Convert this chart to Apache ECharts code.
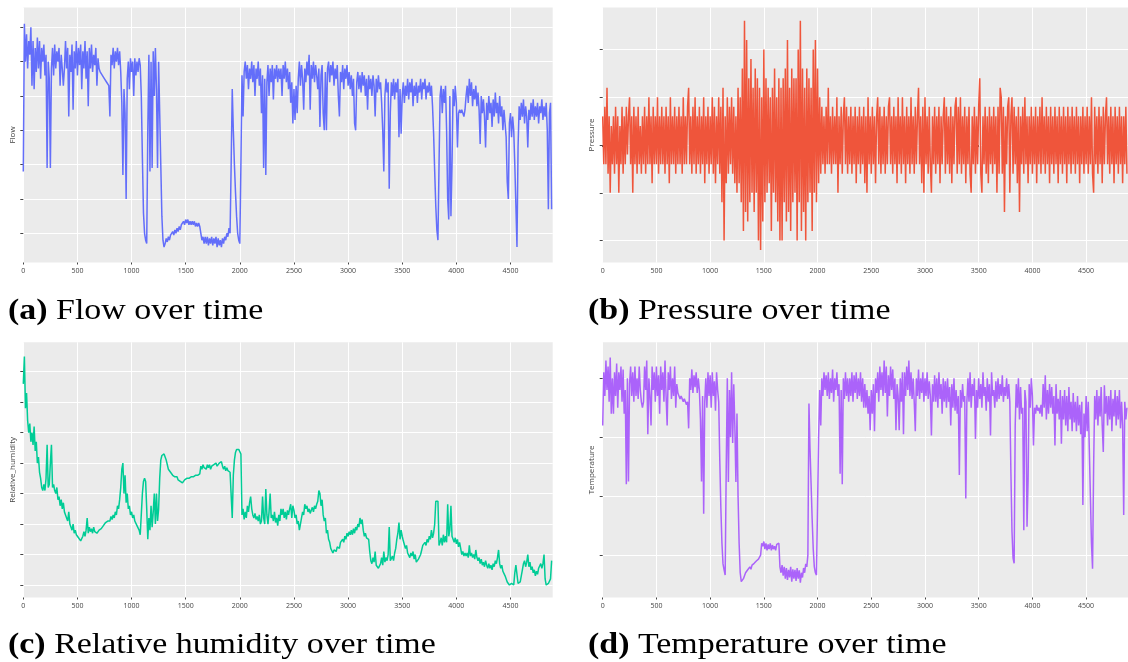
<!DOCTYPE html>
<html>
<head>
<meta charset="utf-8">
<title>Sensor readings over time</title>
<script src="https://cdn.jsdelivr.net/npm/echarts@6.0.0/dist/echarts.min.js"></script>
<style>
  html, body { margin: 0; padding: 0; background: #ffffff; }
  #chart { width: 1128px; height: 662px; }
</style>
</head>
<body>
<div id="chart"></div>
<script>
// Samples are taken every STEP time units, starting at t = 0.
const STEP = 10;
const xTicks = [0, 500, 1000, 1500, 2000, 2500, 3000, 3500, 4000, 4500];

const flow = [
  28,71,60,68,58,66,62,70,53,66,
  52,64,57,67,58,66,55,64,60,65,
  56,62,29,60,55,29,58,64,56,65,
  58,63,60,64,53,62,58,53,58,66,
  58,64,44,62,57,65,46,63,58,66,
  56,64,59,65,52,63,58,66,55,63,
  47,64,58,65,57,62,59,64,53,61,
  58,57,56.5,56,55.5,55,54.5,54,53.5,53,
  44,62,59,64,58,63,60,64,59,63,
  57,48,27,52,45,20,55,60,52,61,
  57,60,50,61,56,60,57,61,59,50,
  32,16,10,8,7,40,62,28,60,29,
  63,50,64,52,29,60,45,30,15,8,
  6,7,8.5,7.5,9,8,9.5,9,10.5,9.5,
  11,10,11.5,10.5,12,11,12.5,12,13.5,12.5,
  14,13,14,12.5,13.5,12.5,13.5,12.5,13.5,12,
  13,12,13,12,10,8,9,7,9,7,
  9,6.5,8.5,7,9,6.5,8.5,7,9,6,
  8.5,6.5,8,6,8.5,7,9,8,10,9,
  11.5,10,30,52,40,30,22,15,10,8,
  7,30,56,44,57,60,55,59,52,58,
  55,60,54,59,50,58,55,60,53,58,
  45,56,29,55,27,54,59,50,58,54,
  59,49,58,55,59,54,58,55,58,50,
  59,55,60,54,58,52,57,48,54,42,
  52,43,53,45,55,60,53,59,55,46,
  58,54,60,56,62,46,59,55,60,54,
  59,56,52,58,41,56,59,45,40,57,
  40,58,60,54,59,56,60,53,58,55,
  59,50,44,57,54,59,52,58,55,59,
  53,57,52,56,50,55,42,40,54,57,
  52,56,51,57,53,56,50,55,46,56,
  52,55,50,56,53,44,55,51,56,52,
  54,48,40,28,50,55,51,54,23,45,
  54,50,55,49,54,51,55,38,52,39,
  50,54,48,53,50,55,49,54,51,55,
  47,53,50,54,48,53,51,55,49,54,
  52,55,49,53,51,54,50,53,47,39,
  28,18,11,8,30,50,53,45,52,48,
  53,40,20,14,50,15,30,52,47,53,
  48,35,45,46,45,46,45,44,46,50,
  53,48,55,50,54,47,52,49,53,47,
  51,46,36,50,45,49,44,35,48,43,
  50,45,48,41,49,44,51,45,48,42,
  50,44,47,40,46,42,38,25,20,42,
  45,38,44,40,30,18,6,35,47,43,
  48,44,49,42,47,44,35,46,43,48,
  44,49,43,47,44,48,42,47,45,49,
  43,47,44,48,40,17,45,48,17
];

const pressure = [
  3,-2,4,-2,6,-3,3,-5,2,-2,
  3,-3,4,-2,3,-5,2,-2,4,-3,
  3,-2,4,-1,3,5,-2,3,-5,4,
  -2,3,-3,4,-2,2,-3,3,-2,4,
  -3,3,-2,5,-2,3,-4,4,-2,3,
  -2,5,-3,3,-2,4,-2,3,-3,4,
  -2,3,-4,5,-2,3,-2,4,-3,3,
  -2,4,-2,3,-3,5,-2,3,-2,4,
  6,-2,3,-3,4,-2,5,-3,3,-2,
  4,-3,3,-2,5,-4,3,-2,4,-3,
  3,-2,5,-3,4,-4,3,-2,5,-3,
  4,-6,6,-10,3,-4,5,-3,4,-2,
  5,-3,4,-4,3,-5,6,-4,5,-6,
  8,-9,13,-7,11,-8,7,-6,9,-5,
  6,-7,8,-5,7,-10,6,-11,5,-8,
  10,-6,7,-5,6,-4,5,-9,6,-5,
  8,-6,5,-8,7,-10,6,-10,7,-6,
  8,-8,11,-7,6,-9,8,-6,7,-5,
  7,-10,10,-6,13,-9,8,-7,6,-10,
  8,-6,7,-5,6,-9,10,-5,11,-6,
  8,-4,5,-3,4,-2,3,-3,4,-2,
  6,-2,3,-3,4,-2,3,-2,5,-5,
  3,-2,4,-3,3,5,-2,4,-3,3,
  -2,4,-3,3,-2,4,-4,3,-2,4,
  -3,3,-2,4,-4,3,-5,5,-2,3,
  -3,4,-2,3,-4,3,5,-2,4,-3,
  3,-2,4,-3,3,-2,4,5,-2,3,
  -3,4,-2,3,-4,5,-2,3,-3,5,
  -2,3,-4,4,-2,3,-3,5,-2,3,
  -3,4,-2,3,6,-2,3,-4,4,-5,
  5,-2,3,-3,4,-2,-5,3,-2,4,
  -3,3,-2,4,-4,3,-2,3,5,-3,
  4,-2,3,-3,4,-4,3,-2,4,5,
  -3,4,-2,5,-3,3,-2,4,-4,3,
  -2,4,-3,-5,3,-2,4,-3,3,-2,
  4,7,-3,-5,3,-2,4,-3,3,-4,
  4,-2,3,-3,4,-2,3,-5,4,-3,
  6,5,-3,4,-7,3,-2,4,5,-5,
  3,5,-3,4,-2,3,-4,4,-7,3,
  -2,4,-3,5,-2,3,-4,3,-2,4,
  -3,3,-2,4,-4,3,-2,4,-3,5,
  -2,3,-3,4,-2,3,-4,4,-2,3,
  -3,4,-2,3,-4,4,-2,3,-3,4,
  -2,3,-4,4,-2,3,-3,4,-2,3,
  -3,4,-2,3,-4,3,-2,4,-3,3,
  -2,4,-3,3,-2,5,-3,-5,4,-2,
  3,-3,4,-2,3,-4,4,-2,3,5,
  -2,3,-3,4,-2,3,-4,4,-2,3,
  -3,4,-2,3,-4,3,-2,4,-3
];

const humidity = [
  86,95,78,83,74,70,73,67,70,66,
  72,64,67,60,62,57,55,52,51,53,
  51,55,66,52,53,60,66,52,53,51,
  50,52,48,49,46,48,45,47,44,43,
  43,41,44,40,39,38,40,37,38,36.5,
  37,35.5,36,34.5,35,36,37.5,36,38,42,
  37,39,37.5,38.5,37,39,37.5,38,37,37.5,
  38,38,38.5,39,39.5,40,40.5,40,41,40.5,
  41,42.5,41.5,43,42,44,43,46,45,48,
  52,58,60,50,56,47,50,45,46,43,
  44,42,43,41,41.5,39.5,40,38,36.5,37,
  50,54,55,54,45,35,42,38,46,39,
  44,50,40,50,41,45,55,61,62.5,63,
  63,62.5,61,59.5,58,57.5,57,56.5,56,56.5,
  55.5,55,55.5,54.5,55,54,54.5,53.5,54,54.5,
  54.5,55,55.5,55,55.5,55.5,56,55.5,56,56,
  56,56,56.5,56.5,59,58,59.5,58.5,59,58,
  59.5,58.5,59.5,58,59,58.5,59.5,59,60,59,
  59.5,60,59.5,60.5,59,58,59,57.5,58.5,57.5,
  58,57,56.5,42,56,61,63.5,64.5,65,64.5,
  64,63,43,45,41.5,44,42,46,44,47,
  49,45,43,42,43.5,41.5,42.5,41,43,40,
  41,49,42,40,51.5,43,40,44,50,42,
  43,41,44,40.5,42,39.5,43,41,45,43,
  45,42,44,41.5,44.5,43,45,46.5,42,46,
  44.5,42,43,40,41,38,40,42,44,43,
  46.5,45,46,44,45,43.5,44.5,45.5,44,46,
  45,46.5,47.5,51,50,46,48,43,41,42,
  37,38,35,34,32,32.5,30.5,31.5,32,31,
  32.5,33,32,34,33.5,35,34,36,35,37,
  36,37.5,36.5,38,36.5,38.5,37,39,38,40,
  39,42,40,41.5,38,36,37,35.5,36,35,
  31,28,27,29,27.5,31,26.5,27,25.5,26,
  27,29,26.5,31,27.5,29,28,30,39,28,
  28.5,29.5,28,30.5,32,35,37,40.5,35,38,
  36,34.5,35,32,33,30.5,31,29,30.5,29.5,
  31,28.5,30,27.5,27,28.5,29,30,31.5,33,
  32.5,34,33,35,34,36,35,38,35.5,37,
  40,47.5,48,47.5,33,34,35.5,33,36.5,34,
  36,34,46.5,36,38,46,36,36.5,34,35.5,
  33.5,35,32.5,34,32,30,31,29.5,30.5,29.5,
  30.5,29,33,29.5,30.5,29,30,28.5,31.5,29,
  28,29,27,28.5,26.5,27.5,26,28,26.5,25.5,
  27,25.5,26.5,25,27,26,28,27,29,31.5,
  27,25.5,26.5,24.5,24,23,22.5,21,20.5,20,
  20,20.5,20,20,24,26.5,26,20.5,20,21,
  23,25,27,28,26,27.5,30,26,27.5,25,
  26,24,25,23,24.5,23.5,25.5,26,27,25.5,
  27,30,22,20,20,20.5,20,22,28
];

const temperature = [
  32,41,37,43,38,42,36,43.5,34,40,
  34,41,37,42.5,35,41,38,42,36,41.5,
  34,38,22,40,22.5,39,42,37,41,36,
  42,37,40,36.5,42,38,36,35,36,42,
  38,43,30.5,40,37,32,42,38,41,36,
  42,37,40.5,34,42,38,41,36,43,37,
  32,41,38,42,36.5,40,37,42,35,39,
  37.5,37,36.5,37,36.5,36,36.5,36,35.5,36,
  31.5,40,38,41.5,37.5,40.5,38.5,41,37.5,40,
  38,33,22.5,37,17,36,40,35,41,37,
  40.5,35,41,37,39.5,34.5,41,38,36,26,
  18,12,8.5,7.5,6.6,25,40,22.4,38,30,
  41,29,39,32,22.4,34,20,12,7,5.5,
  5.2,6,6.5,7,6.8,7.5,7.2,8,7.6,8.3,
  8,8.6,8.4,9,8.7,9.3,9.2,10,12,11.5,
  12.3,11,12,10.8,11.8,11,12,10.8,11.7,11,
  11.5,10.8,11.8,11.5,12,8,7,8.3,6.5,8,
  6,7.8,5.8,7.5,6.2,8,5.5,7.6,6,7.5,
  5.6,7.8,6,7.4,5.3,7,6.2,7.8,7,8.5,
  8,10,35.7,28,22,16,11,8,7,6.6,
  6.6,30,38,32,40,37,41,38,40.5,37,
  41,36.5,40,37.5,41.5,36,40,38,41,37,
  39,23.8,38,22,40,36.5,41,37,40,36,
  40,37,41,36,40.5,37.5,41,36.5,40,37,
  41,36,40,35,39,35,38,34,37,31.2,
  38,34,39,31,40,37.5,41,36,42,38,
  41,37,43,37.5,42,33.5,40.5,37,42,38,
  41.5,36.5,40,31.2,39,37,31.2,40,36,41,
  30.5,41,37,42,38,43,37,41,36.5,40,
  36,31,40,37,41.5,36.5,40,37.5,41,36,
  40,37,41,36.5,39.5,37,30.3,39,36,40.5,
  36,40,35,41,36.5,39,34,40,36,39.5,
  35,40,36,38.5,32,39,35,40,34.5,38,
  34,37,23.6,38,35,39,36,37,19.6,36,
  40,36,41,35,39,37,40,29.7,38,35,
  40,36.5,39,35,41,37,38.5,34.5,40,36,
  39,30.3,41,37,38,35,39.5,36,40,36.5,
  39,37,40.5,36,38.5,37,40,36.5,39,36,
  24,14,9.5,8.6,32,39,35,40,33,38.5,
  34,35,14.2,38,36,14.8,22.8,39,35,40,
  37,28.6,35,34,35.5,34.5,35,34,35.5,33.5,
  39,35,40.5,33,38,34,39,35,38.5,34,
  37,28.6,39,34,36.5,33,38,28.9,37,33,
  38,32,37,31,38.5,33,36,31,37.5,32.5,
  36,31,37,32,35.5,30.5,36,18.5,34,30,
  37,31,36,28,20,12,7.7,25,37,33,
  38,32,37,33.5,38.5,32,27.5,38.8,34,37,
  32,37,33,38,31,36.5,33.5,38,32,37,
  33,38,31.5,36,32,16.8,36,33,35
];

// Gridline positions of each value axis (tick labels are left blank).
const flowTicks = [10, 20, 30, 40, 50, 60, 70];
const pressureTicks = [-10, -5, 0, 5, 10];
const humidityTicks = [20, 30, 40, 50, 60, 70, 80, 90];
const temperatureTicks = [10, 20, 30, 40];

function toPairs(values) {
  return values.map((v, i) => [i * STEP, v]);
}

const TICK_FONT = 'Open Sans';
const AXIS_GREY = '#444444';

function xAxisFor(gridIndex) {
  return {
    type: 'value',
    gridIndex: gridIndex,
    min: 0,
    max: 4890,
    axisLine: { show: false },
    axisTick: { show: true, length: 2, customValues: xTicks, lineStyle: { color: AXIS_GREY, width: 1 } },
    axisLabel: {
      customValues: xTicks,
      formatter: (v) => String(v),
      fontSize: 7,
      color: AXIS_GREY,
      fontFamily: TICK_FONT,
      margin: 5
    },
    splitLine: { show: true, lineStyle: { color: '#ffffff', width: 1 } }
  };
}

function yAxisFor(gridIndex, name, min, max, ticks) {
  return {
    type: 'value',
    gridIndex: gridIndex,
    min: min,
    max: max,
    name: name,
    nameLocation: 'middle',
    nameGap: 7,
    nameTextStyle: { fontSize: 8, color: AXIS_GREY, fontFamily: TICK_FONT },
    axisLine: { show: false },
    axisTick: { show: true, length: 3, customValues: ticks, lineStyle: { color: AXIS_GREY, width: 1 } },
    axisLabel: { show: false, customValues: ticks },
    splitLine: { show: true, lineStyle: { color: '#ffffff', width: 1 } }
  };
}

function lineSeries(index, values, color) {
  return {
    type: 'line',
    xAxisIndex: index,
    yAxisIndex: index,
    data: toPairs(values),
    showSymbol: false,
    symbol: 'none',
    sampling: null,
    lineStyle: { color: color, width: 1.5 },
    itemStyle: { color: color },
    animation: false,
    silent: true
  };
}

// Sub-figure captions, set in a serif face and widened a little.
function caption(tag, text, x, y) {
  return {
    type: 'text',
    x: x,
    y: y,
    scaleX: 1.17,
    silent: true,
    style: {
      text: '{b|' + tag + '} ' + text,
      fontFamily: 'Liberation Serif',
      fontSize: 29,
      fontWeight: 'normal',
      fill: '#000000',
      verticalAlign: 'top',
      align: 'left',
      rich: {
        b: { fontFamily: 'Liberation Serif', fontSize: 29, fontWeight: 'bold', fill: '#000000' }
      }
    }
  };
}

const gridStyle = { show: true, backgroundColor: '#EBEBEB', borderWidth: 0, containLabel: false };

const option = {
  backgroundColor: '#ffffff',
  animation: false,
  graphic: [
    caption('(a)', 'Flow over time', 8, 297),
    caption('(b)', 'Pressure over time', 588, 297),
    caption('(c)', 'Relative humidity over time', 8, 631),
    caption('(d)', 'Temperature over time', 588, 631)
  ],
  grid: [
    Object.assign({ left: 23.3, top: 7.5, width: 529.4, height: 255 }, gridStyle),
    Object.assign({ left: 602.7, top: 7.5, width: 528.7, height: 255 }, gridStyle),
    Object.assign({ left: 23.3, top: 342.3, width: 529.4, height: 255.2 }, gridStyle),
    Object.assign({ left: 602.7, top: 342.3, width: 528.7, height: 255.2 }, gridStyle)
  ],
  xAxis: [xAxisFor(0), xAxisFor(1), xAxisFor(2), xAxisFor(3)],
  yAxis: [
    yAxisFor(0, 'Flow', 1.5, 75.77, flowTicks),
    yAxisFor(1, 'Pressure', -12.3, 14.4, pressureTicks),
    yAxisFor(2, 'Relative_humidity', 15.9, 99.65, humidityTicks),
    yAxisFor(3, 'Temperature', 2.8, 46.1, temperatureTicks)
  ],
  series: [
    lineSeries(0, flow, '#636EFA'),
    lineSeries(1, pressure, '#EF553B'),
    lineSeries(2, humidity, '#00CC96'),
    lineSeries(3, temperature, '#AB63FA')
  ]
};

const chart = echarts.init(document.getElementById('chart'), null, { renderer: 'canvas' });
chart.setOption(option);
</script>
</body>
</html>
